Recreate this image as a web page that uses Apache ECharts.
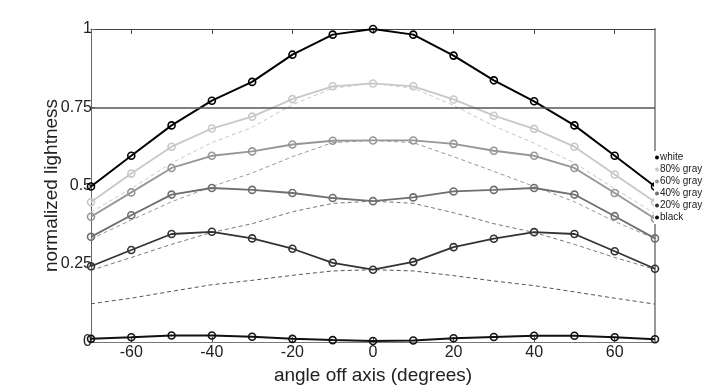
<!DOCTYPE html>
<html><head><meta charset="utf-8">
<script src="https://cdn.jsdelivr.net/npm/echarts@6/dist/echarts.min.js"></script>
<style>html,body{margin:0;padding:0;background:#fff}#c{width:702px;height:390px}</style>
</head><body><div id="c"></div>
<script>
var angles = [-70,-60,-50,-40,-30,-20,-10,0,10,20,30,40,50,60,70];
var xTickLabels = [-60,-40,-20,0,20,40,60];
var yTickLabels = [0,0.25,0.5,0.75,1];
var seriesNames = ['white','80% gray','60% gray','40% gray','20% gray','black'];
var white  = [0.497,0.595,0.692,0.771,0.831,0.918,0.982,1.000,0.982,0.915,0.836,0.769,0.692,0.595,0.497];
var gray80 = [0.447,0.538,0.624,0.682,0.720,0.776,0.817,0.826,0.817,0.775,0.723,0.681,0.624,0.535,0.447];
var gray60 = [0.400,0.478,0.556,0.595,0.609,0.631,0.643,0.644,0.644,0.633,0.611,0.595,0.556,0.476,0.394];
var gray40 = [0.336,0.405,0.471,0.492,0.486,0.476,0.460,0.450,0.462,0.481,0.486,0.492,0.471,0.402,0.331];
var gray20 = [0.242,0.294,0.345,0.352,0.331,0.298,0.253,0.231,0.256,0.303,0.330,0.351,0.345,0.290,0.234];
var black  = [0.010,0.015,0.021,0.021,0.017,0.010,0.006,0.003,0.005,0.012,0.016,0.020,0.020,0.015,0.009];
var ref80 = [0.415,0.490,0.572,0.637,0.686,0.758,0.811,0.826,0.811,0.756,0.690,0.635,0.572,0.490,0.410];
var ref60 = [0.329,0.390,0.448,0.497,0.540,0.592,0.637,0.644,0.637,0.592,0.545,0.497,0.448,0.385,0.330];
var ref40 = [0.229,0.270,0.312,0.350,0.378,0.416,0.443,0.450,0.443,0.413,0.378,0.350,0.312,0.270,0.232];
var ref20 = [0.122,0.140,0.162,0.183,0.197,0.213,0.227,0.231,0.227,0.212,0.195,0.180,0.160,0.140,0.121];
var refLevel = 0.75;

var solidColors = ['#000000','#c8c8c8','#969696','#6e6e6e','#333333','#111111'];
var solidData = [white,gray80,gray60,gray40,gray20,black];
var refColors = ['#c8c8c8','#999999','#777777','#555555'];
var refData = [ref80,ref60,ref40,ref20];

function pairs(arr){ return angles.map(function(a,i){ return [a,arr[i]]; }); }
var FONT = 'Liberation Sans, Arial, sans-serif';

var series = [];
refData.forEach(function(d,i){
  series.push({type:'line', data:pairs(d), symbol:'none', silent:true, z:2,
    lineStyle:{color:refColors[i], width:1, type:[4,3]}});
});
solidData.forEach(function(d,i){
  var s = {name:seriesNames[i], type:'line', data:pairs(d), symbol:'circle', symbolSize:7, z:3,
    lineStyle:{color:solidColors[i], width:(i===0||i===5)?2:1.8},
    itemStyle:{color:'rgba(0,0,0,0)', borderColor:solidColors[i], borderWidth:1.6}};
  if(i===0){
    s.markLine = {silent:true, symbol:['none','none'], label:{show:false},
      lineStyle:{color:'#555', width:1.5, type:'solid'}, data:[{yAxis:refLevel}]};
  }
  series.push(s);
});

var chart = echarts.init(document.getElementById('c'));
chart.setOption({
  animation:false,
  backgroundColor:'#fff',
  grid:{left:91, right:47, top:29, bottom:44},
  legend:{orient:'vertical', left:654, top:151, icon:'circle', itemWidth:4, itemHeight:4, itemGap:1,
    padding:[1,2,1,1], backgroundColor:'#fff', borderWidth:0,
    textStyle:{fontFamily:FONT, fontSize:10, color:'#222', lineHeight:11, padding:[0,0,0,-4]},
    data:seriesNames.map(function(n,i){ return {name:n, itemStyle:{color:solidColors[i], borderWidth:0}}; })},
  xAxis:[{type:'value', min:-70, max:70, interval:10,
    name:'angle off axis (degrees)', nameLocation:'middle', nameGap:24,
    nameTextStyle:{fontFamily:FONT, fontSize:19, color:'#222'},
    axisLine:{onZero:false, lineStyle:{color:'#777', width:1}},
    axisTick:{inside:true, length:5, customValues:xTickLabels, lineStyle:{color:'#555'}},
    axisLabel:{customValues:xTickLabels, fontFamily:FONT, fontSize:16, color:'#222', margin:3},
    splitLine:{show:false}},
   {type:'value', position:'top', min:-70, max:70, interval:10,
    axisLine:{onZero:false, lineStyle:{color:'#444', width:1}},
    axisTick:{inside:true, length:5, customValues:xTickLabels, lineStyle:{color:'#444'}},
    axisLabel:{show:false}, splitLine:{show:false}}],
  yAxis:[{type:'value', min:0, max:1, interval:0.25,
    name:'normalized lightness', nameLocation:'middle', nameGap:30, nameMoveOverlap:false,
    nameTextStyle:{fontFamily:FONT, fontSize:19, color:'#222'},
    axisLine:{show:true, onZero:false, lineStyle:{color:'#666', width:1}},
    axisTick:{show:true, inside:true, length:4, lineStyle:{color:'#666'}},
    axisLabel:{fontFamily:FONT, fontSize:16, color:'#222', margin:-1,
      formatter:function(v){ return yTickLabels.indexOf(v)>=0 ? String(v) : ''; }},
    splitLine:{show:false}},
   {type:'value', position:'right', min:0, max:1, interval:0.25,
    axisLine:{show:true, onZero:false, lineStyle:{color:'#999', width:2}},
    axisTick:{show:false}, axisLabel:{show:false}, splitLine:{show:false}}],
  series:series
});
</script></body></html>
